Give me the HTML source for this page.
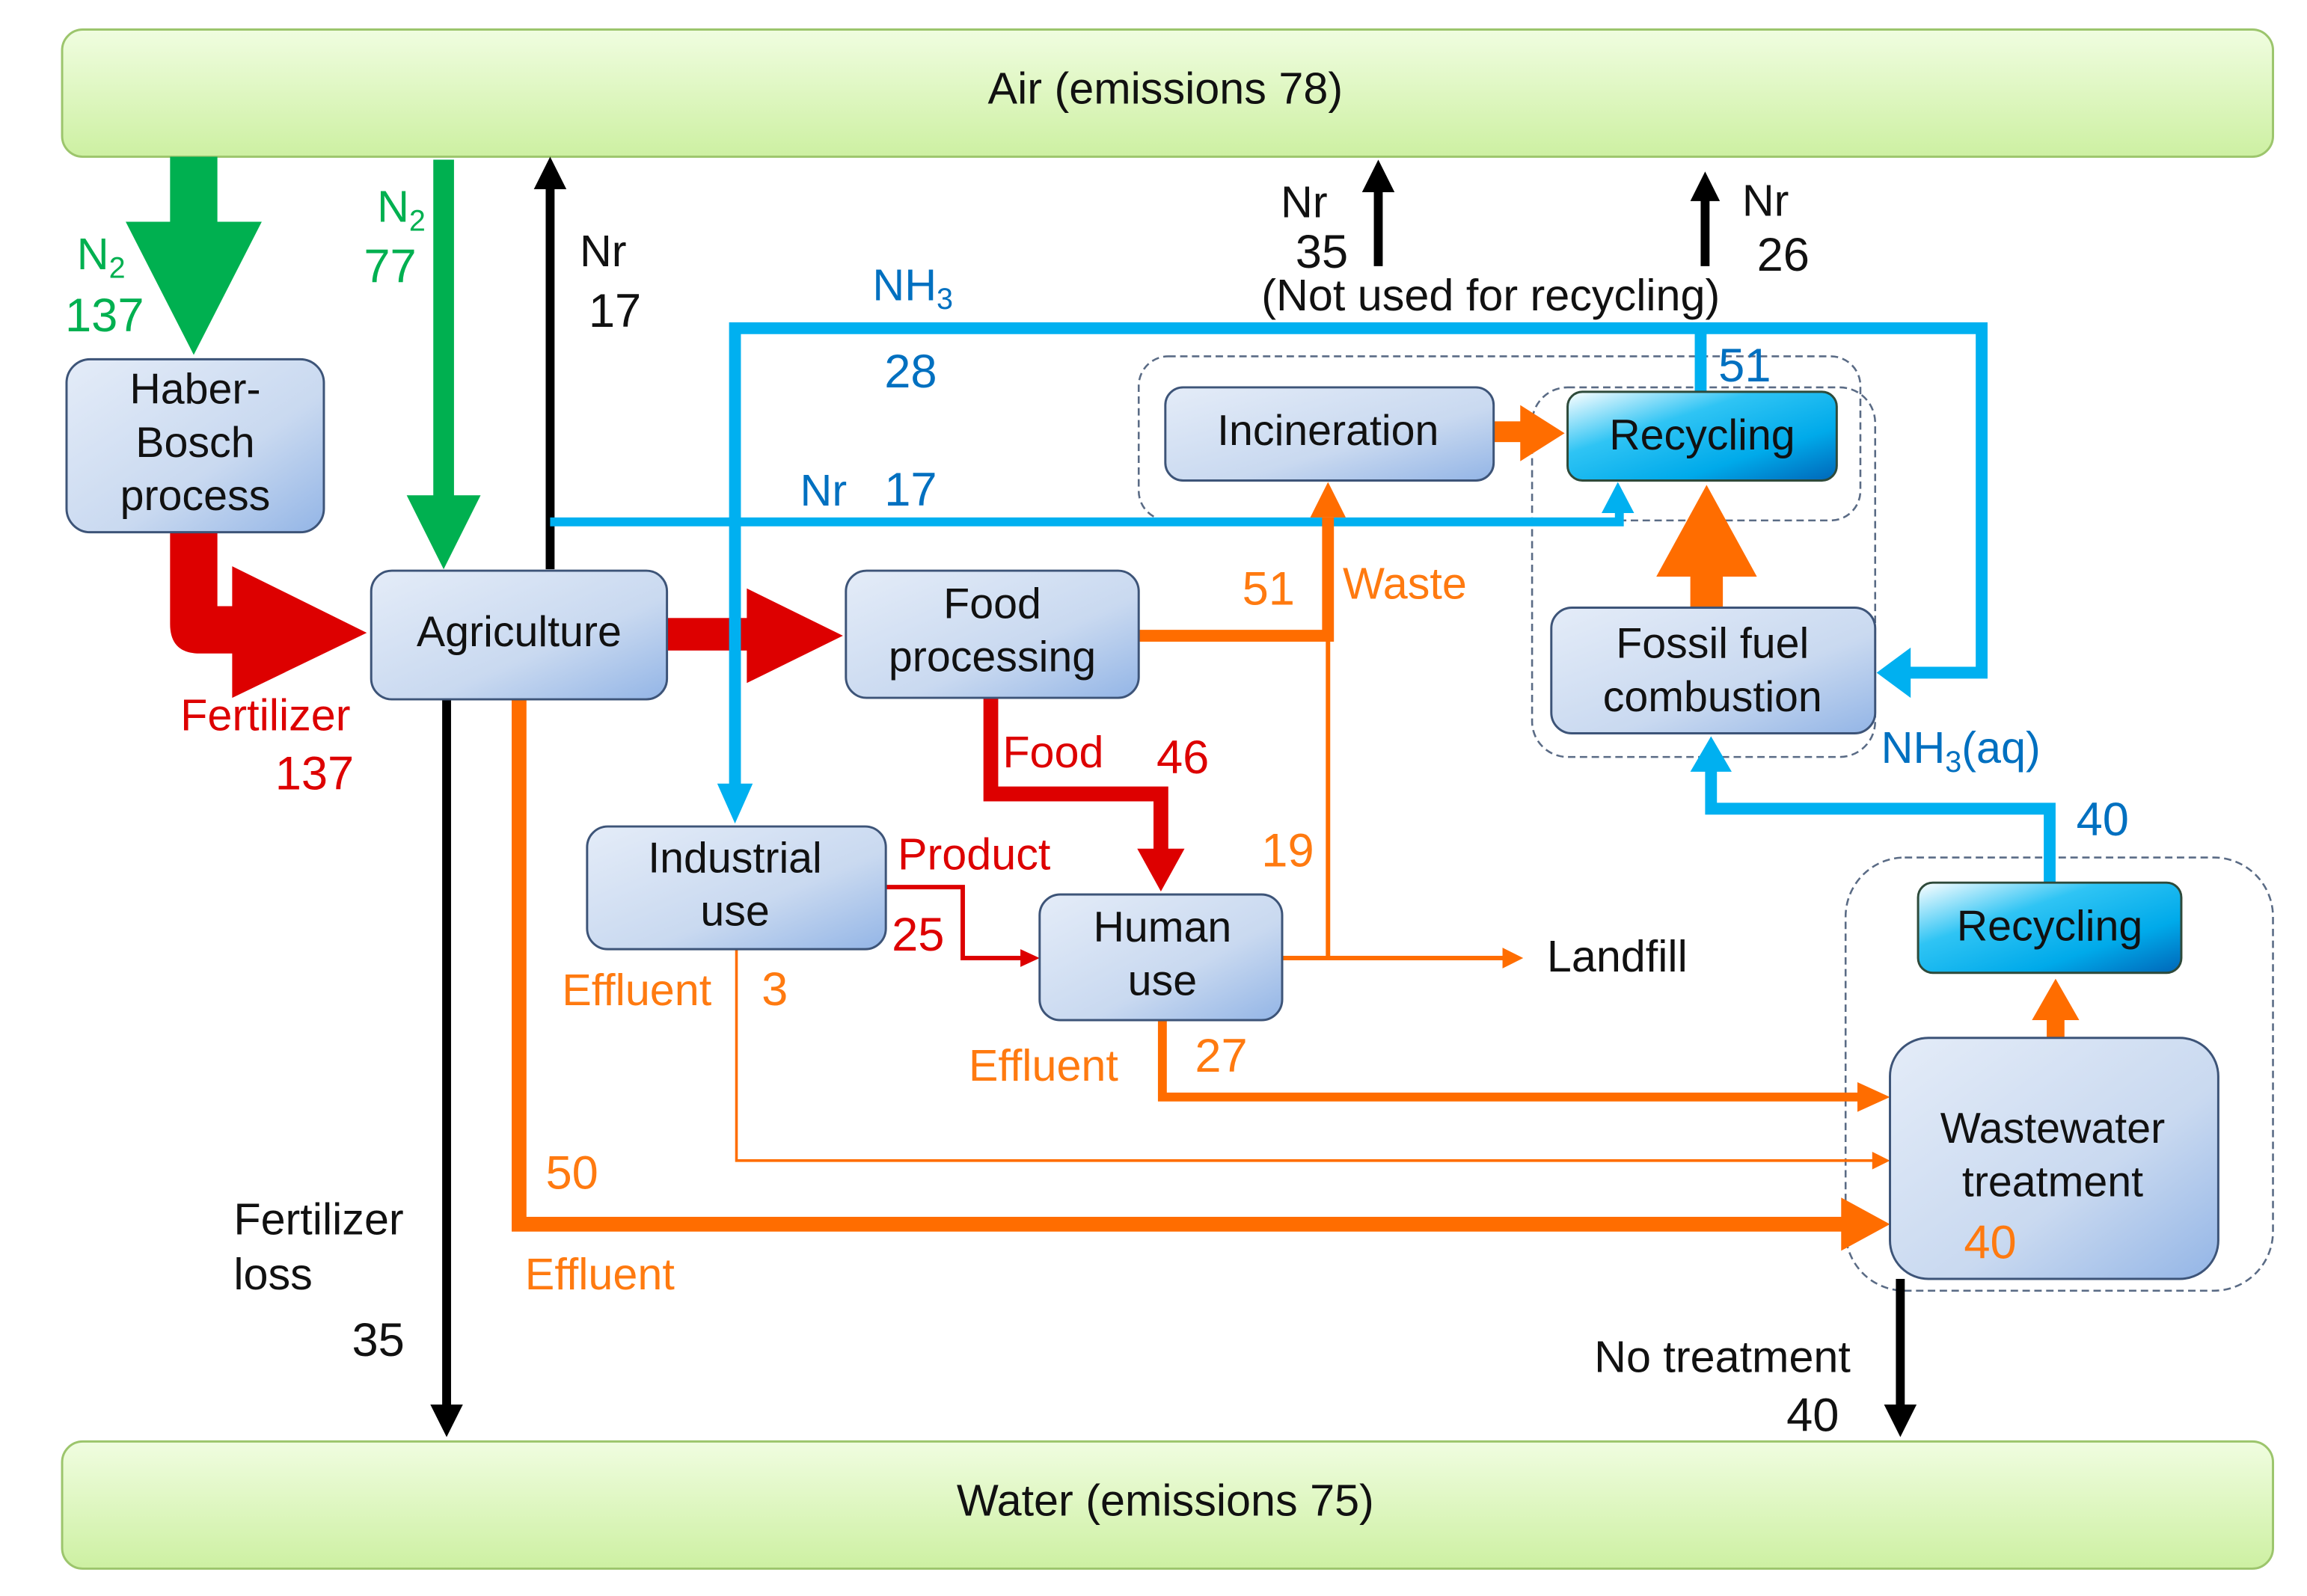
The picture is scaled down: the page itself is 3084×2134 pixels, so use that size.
<!DOCTYPE html>
<html><head><meta charset="utf-8"><style>
html,body{margin:0;padding:0;background:#fff;}
svg{display:block;}
text{font-family:"Liberation Sans","DejaVu Sans",sans-serif;}
</style></head><body>
<svg width="3084" height="2134" viewBox="0 0 1560 1079.5" preserveAspectRatio="none" xmlns="http://www.w3.org/2000/svg">
<defs>
<linearGradient id="g" x1="0" y1="0" x2="0" y2="1"><stop offset="0" stop-color="#f0fde0"/><stop offset="1" stop-color="#cdf0a2"/></linearGradient>
<linearGradient id="b" x1="0" y1="0" x2="1" y2="1"><stop offset="0" stop-color="#e4ecf8"/><stop offset="0.6" stop-color="#c9d9f0"/><stop offset="1" stop-color="#93b5e6"/></linearGradient>
<linearGradient id="c" x1="0" y1="0" x2="1" y2="1"><stop offset="0" stop-color="#ffffff"/><stop offset="0.35" stop-color="#2fc4f4"/><stop offset="0.7" stop-color="#00aaea"/><stop offset="1" stop-color="#0066b8"/></linearGradient>
</defs>
<g fill="none" stroke="#5a6b85" stroke-width="1.3" stroke-dasharray="5,3">
<rect x="770" y="241" width="488" height="111" rx="20"/>
<rect x="1036" y="262" width="232" height="250" rx="24"/>
<rect x="1248" y="580" width="289" height="293" rx="40"/>
</g>
<rect x="42" y="20" width="1495" height="86" rx="14" fill="url(#g)" stroke="#9cc56c" stroke-width="1.5"/>
<rect x="42" y="975" width="1495" height="86" rx="14" fill="url(#g)" stroke="#9cc56c" stroke-width="1.5"/>
<g font-size="30" fill="#111" text-anchor="middle">
<text x="788" y="70">Air (emissions 78)</text>
<text x="788" y="1025">Water (emissions 75)</text>
</g>
<!-- green arrows -->
<g fill="#00b050">
<rect x="115" y="106" width="32" height="46"/>
<polygon points="85,150 177,150 131,240"/>
<rect x="293" y="108" width="14" height="230"/>
<polygon points="275,335 325,335 300,385"/>
</g>
<!-- red fertilizer -->
<path d="M115,360 H147 V410 H160 V442 H135 Q115,442 115,422 Z" fill="#dd0000"/>
<polygon points="157,383 157,472 248,428" fill="#dd0000"/>
<rect x="451" y="418" width="56" height="22" fill="#dd0000"/>
<polygon points="505,398 505,462 570,430" fill="#dd0000"/>
<!-- black arrows -->
<g stroke="#000" stroke-width="6" fill="none">
<line x1="372" y1="385" x2="372" y2="125"/>
<line x1="302" y1="473" x2="302" y2="952"/>
<line x1="932" y1="180" x2="932" y2="128"/>
<line x1="1153" y1="180" x2="1153" y2="134"/>
<line x1="1285" y1="865" x2="1285" y2="952"/>
</g>
<g fill="#000">
<polygon points="361,128 383,128 372,106"/>
<polygon points="291,950 313,950 302,972"/>
<polygon points="921,130 943,130 932,108"/>
<polygon points="1143,136 1163,136 1153,116"/>
<polygon points="1274,950 1296,950 1285,972"/>
</g>
<!-- blue lines -->
<g stroke="#00b0f0" fill="none" stroke-linejoin="miter">
<path d="M1150,265 V222" stroke-width="8"/>
<path d="M497,535 V222 H1340 V455 H1290" stroke-width="8"/>
<path d="M372,353 H1095 V345" stroke-width="6"/>
<path d="M1386,597 V547 H1157 V520" stroke-width="8"/>
</g>
<g fill="#00b0f0">
<polygon points="485,530 509,530 497,557"/>
<polygon points="1083,347 1105,347 1094,326"/>
<polygon points="1292,438 1292,472 1269,455"/>
<polygon points="1143,522 1171,522 1157,498"/>
</g>
<!-- orange lines -->
<g stroke="#ff6d00" fill="none">
<path d="M770,430 H898 V350" stroke-width="8"/>
<path d="M898,430 V648" stroke-width="3"/>
<path d="M867,648 H1018" stroke-width="3"/>
<path d="M498,642 V785 H1268" stroke-width="1.8"/>
<path d="M786,690 V742 H1258" stroke-width="6"/>
<path d="M351,473 V828 H1248" stroke-width="10"/>
<path d="M1010,292 H1032" stroke-width="14"/>
<path d="M1154,411 V385" stroke-width="22"/>
<path d="M1390,702 V685" stroke-width="12"/>
</g>
<g fill="#ff6d00">
<polygon points="886,350 910,350 898,326"/>
<polygon points="1016,641 1016,655 1030,648"/>
<polygon points="1266,779 1266,791 1278,785"/>
<polygon points="1256,732 1256,752 1278,742"/>
<polygon points="1245,810 1245,846 1278,828"/>
<polygon points="1028,274 1028,312 1058,293"/>
<polygon points="1120,390 1188,390 1154,328"/>
<polygon points="1374,690 1406,690 1390,662"/>
</g>
<!-- red food / product -->
<path d="M670,472 V537 H785 V578" stroke="#dd0000" stroke-width="10" fill="none"/>
<polygon points="769,574 801,574 785,603" fill="#dd0000"/>
<path d="M599,600 H651 V648 H692" stroke="#dd0000" stroke-width="3" fill="none"/>
<polygon points="690,642 690,654 703,648" fill="#dd0000"/>
<!-- boxes -->
<g stroke="#3d5478" stroke-width="1.5" fill="url(#b)">
<rect x="45" y="243" width="174" height="117" rx="16"/>
<rect x="251" y="386" width="200" height="87" rx="14"/>
<rect x="572" y="386" width="198" height="86" rx="14"/>
<rect x="397" y="559" width="202" height="83" rx="14"/>
<rect x="703" y="605" width="164" height="85" rx="14"/>
<rect x="788" y="262" width="222" height="63" rx="12"/>
<rect x="1049" y="411" width="219" height="85" rx="14"/>
<rect x="1278" y="702" width="222" height="163" rx="26"/>
</g>
<g stroke="#2e4a3a" stroke-width="1.5" fill="url(#c)">
<rect x="1060" y="265" width="182" height="60" rx="10"/>
<rect x="1297" y="597" width="178" height="61" rx="10"/>
</g>
<g font-size="29" fill="#111" text-anchor="middle">
<text x="132" y="273">Haber-</text><text x="132" y="309">Bosch</text><text x="132" y="345">process</text>
<text x="351" y="437">Agriculture</text>
<text x="671" y="418">Food</text><text x="671" y="454">processing</text>
<text x="497" y="590">Industrial</text><text x="497" y="626">use</text>
<text x="786" y="637">Human</text><text x="786" y="673">use</text>
<text x="898" y="301">Incineration</text>
<text x="1151" y="304">Recycling</text>
<text x="1158" y="445">Fossil fuel</text><text x="1158" y="481">combustion</text>
<text x="1386" y="636">Recycling</text>
<text x="1388" y="773">Wastewater</text><text x="1388" y="809">treatment</text>
</g>
<!-- labels -->
<g font-size="30">
<g fill="#00b050"><text x="52" y="182">N<tspan font-size="20" dy="6">2</tspan></text><text x="44" y="224" font-size="32">137</text>
<text x="255" y="150">N<tspan font-size="20" dy="6">2</tspan></text><text x="246" y="191" font-size="32">77</text></g>
<g fill="#111"><text x="392" y="180">Nr</text><text x="398" y="221" font-size="32">17</text>
<text x="866" y="147">Nr</text><text x="876" y="181" font-size="32">35</text>
<text x="853" y="210">(Not used for recycling)</text>
<text x="1178" y="146">Nr</text><text x="1188" y="183" font-size="32">26</text>
<text x="1046" y="657">Landfill</text>
<text x="158" y="835">Fertilizer</text><text x="158" y="872">loss</text><text x="238" y="917" font-size="32">35</text>
<text x="1078" y="928">No treatment</text><text x="1208" y="968" font-size="32">40</text></g>
<g fill="#0070c0"><text x="590" y="203">NH<tspan font-size="20" dy="6">3</tspan></text><text x="598" y="262" font-size="32">28</text>
<text x="541" y="342">Nr</text><text x="598" y="342" font-size="32">17</text>
<text x="1162" y="258" font-size="32">51</text>
<text x="1404" y="565" font-size="32">40</text>
<text x="1272" y="516">NH<tspan font-size="20" dy="6">3</tspan><tspan dy="-6">(aq)</tspan></text></g>
<g fill="#dd0000"><text x="122" y="494">Fertilizer</text><text x="186" y="534" font-size="32">137</text>
<text x="678" y="519">Food</text><text x="782" y="523" font-size="32">46</text>
<text x="607" y="588">Product</text><text x="603" y="643" font-size="32">25</text></g>
<g fill="#ff7a10"><text x="840" y="409" font-size="32">51</text><text x="908" y="405">Waste</text>
<text x="853" y="586" font-size="32">19</text>
<text x="380" y="680">Effluent</text><text x="515" y="680" font-size="32">3</text>
<text x="655" y="731">Effluent</text><text x="808" y="725" font-size="32">27</text>
<text x="369" y="804" font-size="32">50</text><text x="355" y="872">Effluent</text>
<text x="1328" y="851" font-size="32">40</text></g>
</g>
</svg>
</body></html>
